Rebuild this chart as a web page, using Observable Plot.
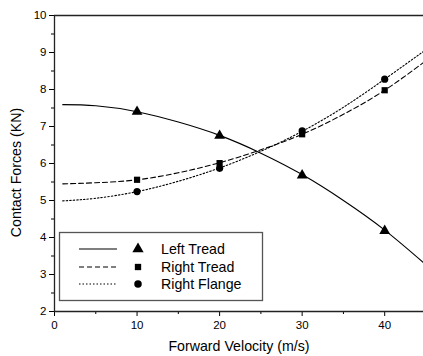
<!DOCTYPE html>
<html>
<head>
<meta charset="utf-8">
<script src="https://cdn.jsdelivr.net/npm/d3@7"></script>
<script src="https://cdn.jsdelivr.net/npm/@observablehq/plot@0.6"></script>
<style>
  html, body { margin: 0; padding: 0; background: #fff; }
  #chart { position: relative; width: 423px; height: 356px; }
  svg { font-family: "Liberation Sans", Arial, sans-serif; }
</style>
</head>
<body>
<div id="chart"></div>
<script>
// measured data points
const velocities = [10, 20, 30, 40];
const leftTread = [7.40, 6.75, 5.68, 4.18];
const rightTread = [5.56, 6.01, 6.79, 7.98];
const rightFlange = [5.24, 5.87, 6.88, 8.28];

// fitted curves
const curveX = [1, 5, 10, 15, 20, 25, 30, 35, 40, 44.7];
const leftTreadCurve = [7.59, 7.56, 7.40, 7.12, 6.76, 6.28, 5.70, 5.00, 4.20, 3.32];
const rightTreadCurve = [5.45, 5.48, 5.56, 5.75, 6.02, 6.37, 6.79, 7.33, 7.98, 8.73];
const rightFlangeCurve = [4.99, 5.06, 5.24, 5.52, 5.88, 6.33, 6.87, 7.52, 8.28, 9.03];

const seriesNames = ["Left Tread", "Right Tread", "Right Flange"];
const symbols = ["triangle", "square", "circle"];
const dashes = [null, "5,3", "1.5,2"];

const xTicks = [0, 10, 20, 30, 40];
const xMinor = [5, 15, 25, 35];
const yTicks = [2, 3, 4, 5, 6, 7, 8, 9, 10];
const yMinor = [2.5, 3.5, 4.5, 5.5, 6.5, 7.5, 8.5, 9.5];

const xLabel = "Forward Velocity (m/s)";
const yLabel = "Contact Forces (KN)";

const pointSets = [leftTread, rightTread, rightFlange];
const curveSets = [leftTreadCurve, rightTreadCurve, rightFlangeCurve];

const points = [];
pointSets.forEach((vals, s) => vals.forEach((v, i) => points.push({x: velocities[i], y: v, s: seriesNames[s]})));
const curves = curveSets.map((vals, s) => vals.map((v, i) => ({x: curveX[i], y: v, s: seriesNames[s]})));

const marks = [];
curves.forEach((c, s) => {
  marks.push(Plot.line(c, {x: "x", y: "y", stroke: "#000", strokeWidth: 1.1, strokeDasharray: dashes[s], curve: "natural"}));
});
seriesNames.forEach((name, s) => {
  marks.push(Plot.dot(points.filter(d => d.s === name), {
    x: "x", y: "y", symbol: () => symbols[s], fill: "#000", stroke: "none",
    r: s === 0 ? 4.0 : (s === 1 ? 3.5 : 3.6)
  }));
});

const plot = Plot.plot({
  width: 423,
  height: 356,
  marginLeft: 54,
  marginRight: 0,
  marginTop: 15,
  marginBottom: 45,
  style: {fontFamily: "'Liberation Sans', Arial, sans-serif", fontSize: "11.5px", color: "#000", background: "#fff"},
  symbol: {type: "identity"},
  x: {domain: [0, 44.7]},
  y: {domain: [2, 10]},
  marks: [
    Plot.axisX({ticks: xTicks, tickSize: 5, tickPadding: 4, fontSize: 11.5, label: null, tickFormat: d => String(d)}),
    Plot.axisX({ticks: xMinor, tickSize: 3, label: null, text: null}),
    Plot.axisY({ticks: yTicks, tickSize: 5, tickPadding: 3, fontSize: 11.5, label: null, tickFormat: d => String(d)}),
    Plot.axisY({ticks: yMinor, tickSize: 3, label: null, text: null}),
    Plot.text([xLabel], {text: d => d, frameAnchor: "bottom", dy: 35, lineAnchor: "middle", textAnchor: "middle", fontSize: 14.2, fill: "#000"}),
    Plot.text([yLabel], {text: d => d, frameAnchor: "left", dx: -38, dy: 9, rotate: -90, lineAnchor: "middle", textAnchor: "middle", fontSize: 14.2, fill: "#000"}),
    Plot.ruleX([0], {stroke: "#222", strokeWidth: 1.3}),
    Plot.ruleY([2], {stroke: "#222", strokeWidth: 1.3}),
    Plot.ruleY([10], {stroke: "#222", strokeWidth: 1.3}),
    ...marks
  ]
});

document.getElementById("chart").appendChild(plot);

// Legend box inside the plot frame
const svg = d3.select(plot);
const lg = svg.append("g").attr("font-family", "'Liberation Sans', Arial, sans-serif").attr("font-size", 14.2).attr("text-anchor", "start");
lg.append("rect").attr("x", 59.5).attr("y", 232.5).attr("width", 203).attr("height", 68)
  .attr("fill", "#fff").attr("stroke", "#555").attr("stroke-width", 1.3);
const rowsY = [249, 267, 284];
const symGen = [d3.symbolTriangle, d3.symbolSquare, d3.symbolCircle];
const symSize = [55, 40, 44];
seriesNames.forEach((name, i) => {
  lg.append("line").attr("x1", 79).attr("x2", 117).attr("y1", rowsY[i]).attr("y2", rowsY[i])
    .attr("stroke", "#000").attr("stroke-width", 1.1).attr("stroke-dasharray", dashes[i]);
  lg.append("path").attr("d", d3.symbol(symGen[i], symSize[i])()).attr("transform", `translate(138,${rowsY[i]})`).attr("fill", "#000");
  lg.append("text").attr("x", 161).attr("y", rowsY[i]).attr("dy", "0.35em").attr("text-anchor", "start").text(name);
});
</script>
</body>
</html>
